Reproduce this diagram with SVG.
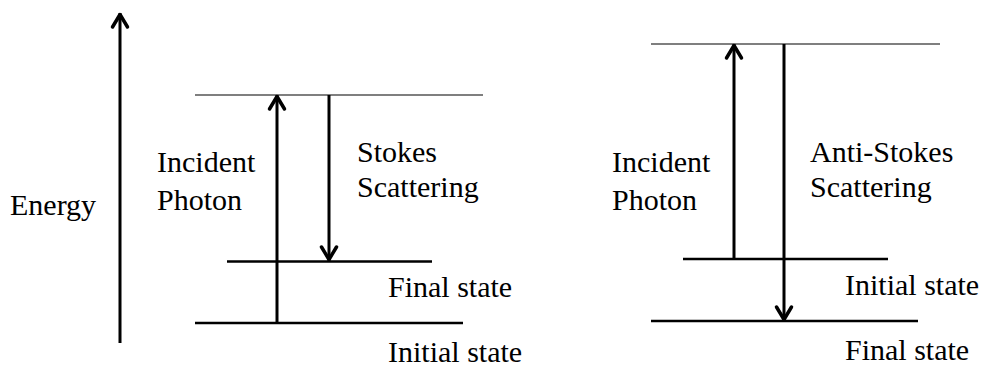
<svg xmlns="http://www.w3.org/2000/svg" width="987" height="367" viewBox="0 0 987 367">
<defs>
<marker id="chev" markerUnits="userSpaceOnUse" markerWidth="30" markerHeight="30" viewBox="-20 -15 30 30" refX="0" refY="0" orient="auto">
<path d="M-14,-7.5 L-1.5,0 L-14,7.5" fill="none" stroke="#000" stroke-width="3.5" stroke-linecap="round" stroke-linejoin="round"/>
</marker>
<style>
text{font-family:'Liberation Serif','Times New Roman',serif;font-size:30px;fill:#000}
.thin{stroke:#000;stroke-width:1.2}
.lvl{stroke:#000;stroke-width:2.5}
.arr{stroke:#000;stroke-width:3;fill:none;marker-end:url(#chev)}
</style>
</defs>
<rect width="987" height="367" fill="#fff"/>
<g id="energy-axis">
<line class="arr" x1="120" y1="343" x2="120" y2="13"/>
<text x="10" y="215">Energy</text>
</g>
<g id="stokes-levels">
<line class="thin" x1="195" y1="95" x2="483" y2="95"/>
<line class="lvl" x1="227" y1="261.5" x2="432" y2="261.5"/>
<line class="lvl" x1="195" y1="323" x2="463" y2="323"/>
<text x="388" y="297">Final state</text>
<text x="388" y="362">Initial state</text>
</g>
<g id="stokes-labels">
<text x="157" y="172">Incident</text>
<text x="157" y="210">Photon</text>
<text x="357" y="162">Stokes</text>
<text x="357" y="197">Scattering</text>
</g>
<g id="antistokes-levels">
<line class="thin" x1="651" y1="44" x2="940" y2="44"/>
<line class="lvl" x1="683" y1="259" x2="888" y2="259"/>
<line class="lvl" x1="651" y1="321" x2="918" y2="321"/>
<text x="845" y="295">Initial state</text>
<text x="845" y="360">Final state</text>
</g>
<g id="antistokes-labels">
<text x="612" y="172">Incident</text>
<text x="612" y="210">Photon</text>
<text x="810" y="162">Anti-Stokes</text>
<text x="810" y="197">Scattering</text>
</g>
<g id="connectors">
<line class="arr" x1="277" y1="323" x2="277" y2="95"/>
<line class="arr" x1="329" y1="95" x2="329" y2="261"/>
<line class="arr" x1="734" y1="259" x2="734" y2="44"/>
<line class="arr" x1="784" y1="44" x2="784" y2="321"/>
</g>
</svg>
